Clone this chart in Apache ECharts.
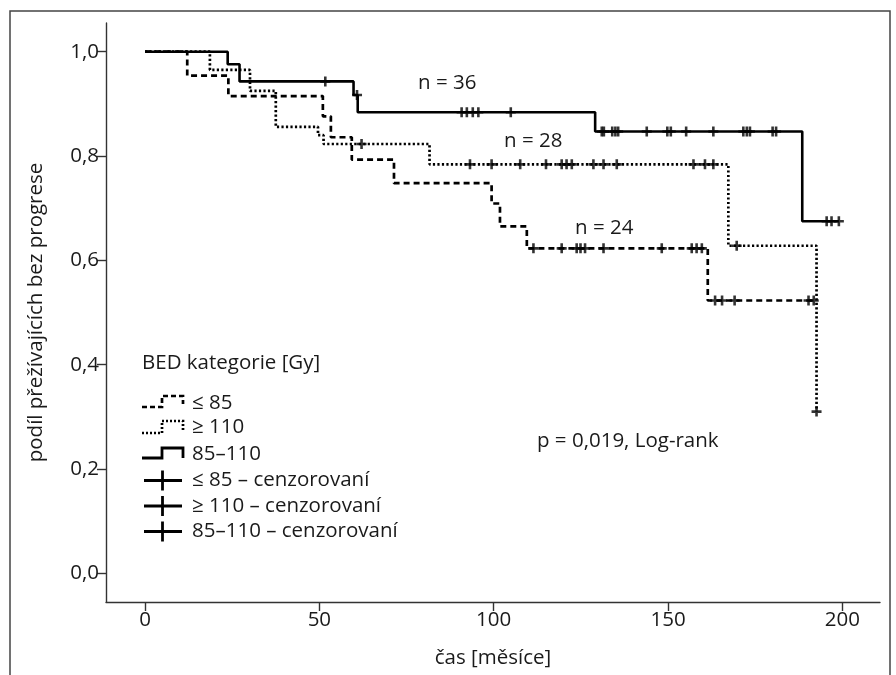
<!DOCTYPE html>
<html>
<head>
<meta charset="utf-8">
<script src="https://cdn.jsdelivr.net/npm/echarts@6/dist/echarts.min.js"></script>
<style>
html,body{margin:0;padding:0;background:#fff;}
#chart{width:896px;height:675px;}
</style>
</head>
<body>
<div id="chart"></div>
<script>
// ---- Data ----
const xTicks = [0, 50, 100, 150, 200];
const yTicks = [0, 0.2, 0.4, 0.6, 0.8, 1.0];

// 85–110 (solid), n = 36 : event times and survival levels
const tSolid = [0, 23.7, 27.1, 59.8, 61.0, 129.1, 188.5, 199.0];
const sSolid = [1.0, 0.976, 0.943, 0.917, 0.884, 0.847, 0.675, 0.675];
const cSolid = [51.7, 60.8, 90.8, 92.3, 94.0, 95.6, 104.9, 131.0, 131.6, 134.0, 134.9, 135.7,
                143.9, 149.8, 150.8, 155.2, 163.0, 171.6, 172.6, 173.5, 180.0, 181.0,
                195.5, 196.9, 199.0];

// ≤ 85 (dashed), n = 24
const tDash = [0, 12.1, 23.9, 51.0, 53.3, 59.3, 71.4, 99.4, 101.8, 109.5, 161.4, 191.8];
const sDash = [1.0, 0.954, 0.915, 0.876, 0.836, 0.793, 0.748, 0.709, 0.665, 0.623, 0.523, 0.523];
const cDash = [111.4, 119.5, 123.8, 124.9, 126.2, 131.5, 148.2, 156.8, 158.2, 159.7,
               163.5, 165.5, 169.1, 190.3, 191.8];

// ≥ 110 (dotted), n = 28
const tDot = [0, 18.6, 30.1, 37.5, 49.6, 51.2, 81.6, 167.3, 192.6];
const sDot = [1.0, 0.965, 0.925, 0.856, 0.840, 0.823, 0.784, 0.628, 0.310];
const cDot = [62.1, 93.2, 99.4, 107.6, 115.0, 119.5, 120.9, 122.4, 128.6, 131.5, 135.3,
              157.3, 160.6, 163.0, 169.7, 192.6];

const legendTitle = 'BED kategorie [Gy]';
const legendLabels = ['≤ 85', '≥ 110', '85–110', '≤ 85 – cenzorovaní', '≥ 110 – cenzorovaní', '85–110 – cenzorovaní'];
const curveNotes = ['n = 36', 'n = 28', 'n = 24'];
const pText = 'p = 0,019, Log-rank';

// ---- helpers ----
function pairs(t, s) { return t.map((v, i) => [v, s[i]]); }
function levelAt(t, s, x) {
  let y = s[0];
  for (let i = 0; i < t.length; i++) { if (t[i] <= x) y = s[i]; }
  return y;
}
function censored(t, s, c) { return c.map(x => [x, levelAt(t, s, x)]); }

const FONT = '"Open Sans", "Noto Sans", sans-serif';
const FS = 20.5;
const TXT = '#1a1a1a';
const plus = 'path://M3.7,0H6.3V3.7H10V6.3H6.3V10H3.7V6.3H0V3.7H3.7Z';

const chart = echarts.init(document.getElementById('chart'));

function lineSeries(name, t, s, type, w) {
  return {
    name: name, type: 'line', step: 'end', data: pairs(t, s),
    showSymbol: false, symbol: 'none', animation: false,
    lineStyle: { color: '#000', width: w, type: type, cap: 'butt' },
    z: 3
  };
}
function censorSeries(name, t, s, c) {
  return {
    name: name, type: 'scatter', data: censored(t, s, c),
    symbol: plus, symbolSize: 10, animation: false,
    itemStyle: { color: '#000' }, z: 4
  };
}

const legendGraphics = [];
legendGraphics.push({ type: 'text', left: 142, top: 353,
  style: { text: legendTitle, font: FS + 'px ' + FONT, fill: TXT } });
const rowY = [403, 427, 454, 480.5, 506, 531.5];
legendLabels.forEach((lab, i) => {
  legendGraphics.push({ type: 'text', x: 192, y: rowY[i],
    style: { text: lab, font: FS + 'px ' + FONT, fill: TXT, verticalAlign: 'middle' } });
});
legendGraphics.push({ type: 'polyline',
  shape: { points: [[142, 407], [162, 407], [162, 396], [183, 396], [183, 404]] },
  style: { stroke: '#000', lineWidth: 2.7, lineDash: [5, 3], fill: null } });
legendGraphics.push({ type: 'polyline',
  shape: { points: [[142, 433], [162, 433], [162, 421], [183, 421], [183, 430]] },
  style: { stroke: '#000', lineWidth: 2.7, lineDash: [2, 2], fill: null } });
legendGraphics.push({ type: 'polyline',
  shape: { points: [[142, 458], [162, 458], [162, 448], [183, 448], [183, 458]] },
  style: { stroke: '#000', lineWidth: 2.8, fill: null } });
[480.5, 506, 531.5].forEach(y => {
  legendGraphics.push({ type: 'line', shape: { x1: 144, y1: y, x2: 182, y2: y },
    style: { stroke: '#000', lineWidth: 2.8 } });
  legendGraphics.push({ type: 'line', shape: { x1: 162.5, y1: y - 10, x2: 162.5, y2: y + 10 },
    style: { stroke: '#000', lineWidth: 2.8 } });
});

const option = {
  backgroundColor: '#fff',
  animation: false,
  grid: { left: 106, top: 23, right: 16, bottom: 73, outerBoundsMode: 'none', containLabel: false },
  xAxis: {
    type: 'value', min: -11.2, max: 210.8,
    name: 'čas [měsíce]', nameLocation: 'middle', nameGap: 46,
    nameTextStyle: { fontFamily: FONT, fontSize: FS, color: TXT },
    axisLine: { show: true, onZero: false, lineStyle: { color: '#333', width: 1.4 } },
    axisTick: { show: true, length: 9, customValues: xTicks, lineStyle: { color: '#333', width: 1.4 } },
    axisLabel: { customValues: xTicks, fontFamily: FONT, fontSize: FS, color: TXT, margin: 8 },
    splitLine: { show: false }
  },
  yAxis: {
    type: 'value', min: -0.055, max: 1.055,
    name: 'podíl přežívajících bez progrese', nameLocation: 'middle', nameGap: 59,
    nameTextStyle: { fontFamily: FONT, fontSize: FS, color: TXT },
    axisLine: { show: true, onZero: false, lineStyle: { color: '#333', width: 1.4 } },
    axisTick: { show: true, length: 9, customValues: yTicks, lineStyle: { color: '#333', width: 1.4 } },
    axisLabel: { customValues: yTicks, fontFamily: FONT, fontSize: FS, color: TXT, margin: 7,
      formatter: v => v.toFixed(1).replace('.', ',') },
    splitLine: { show: false }
  },
  series: [
    lineSeries('≤ 85', tDash, sDash, [6, 4], 2.7),
    lineSeries('≥ 110', tDot, sDot, [2.2, 2.3], 2.7),
    lineSeries('85–110', tSolid, sSolid, 'solid', 2.6),
    censorSeries('≤ 85 – cenzorovaní', tDash, sDash, cDash),
    censorSeries('≥ 110 – cenzorovaní', tDot, sDot, cDot),
    censorSeries('85–110 – cenzorovaní', tSolid, sSolid, cSolid)
  ],
  graphic: [
    { type: 'rect', shape: { x: 10, y: 11, width: 880, height: 720 },
      style: { fill: null, stroke: '#444', lineWidth: 1.5 }, z: 0, silent: true },
    { type: 'text', x: 418, y: 83, style: { text: curveNotes[0], font: FS + 'px ' + FONT, fill: TXT, verticalAlign: 'middle' } },
    { type: 'text', x: 504, y: 141, style: { text: curveNotes[1], font: FS + 'px ' + FONT, fill: TXT, verticalAlign: 'middle' } },
    { type: 'text', x: 575, y: 228, style: { text: curveNotes[2], font: FS + 'px ' + FONT, fill: TXT, verticalAlign: 'middle' } },
    { type: 'text', x: 537, y: 441, style: { text: pText, font: FS + 'px ' + FONT, fill: TXT, verticalAlign: 'middle' } }
  ].concat(legendGraphics)
};
chart.setOption(option);
</script>
</body>
</html>
